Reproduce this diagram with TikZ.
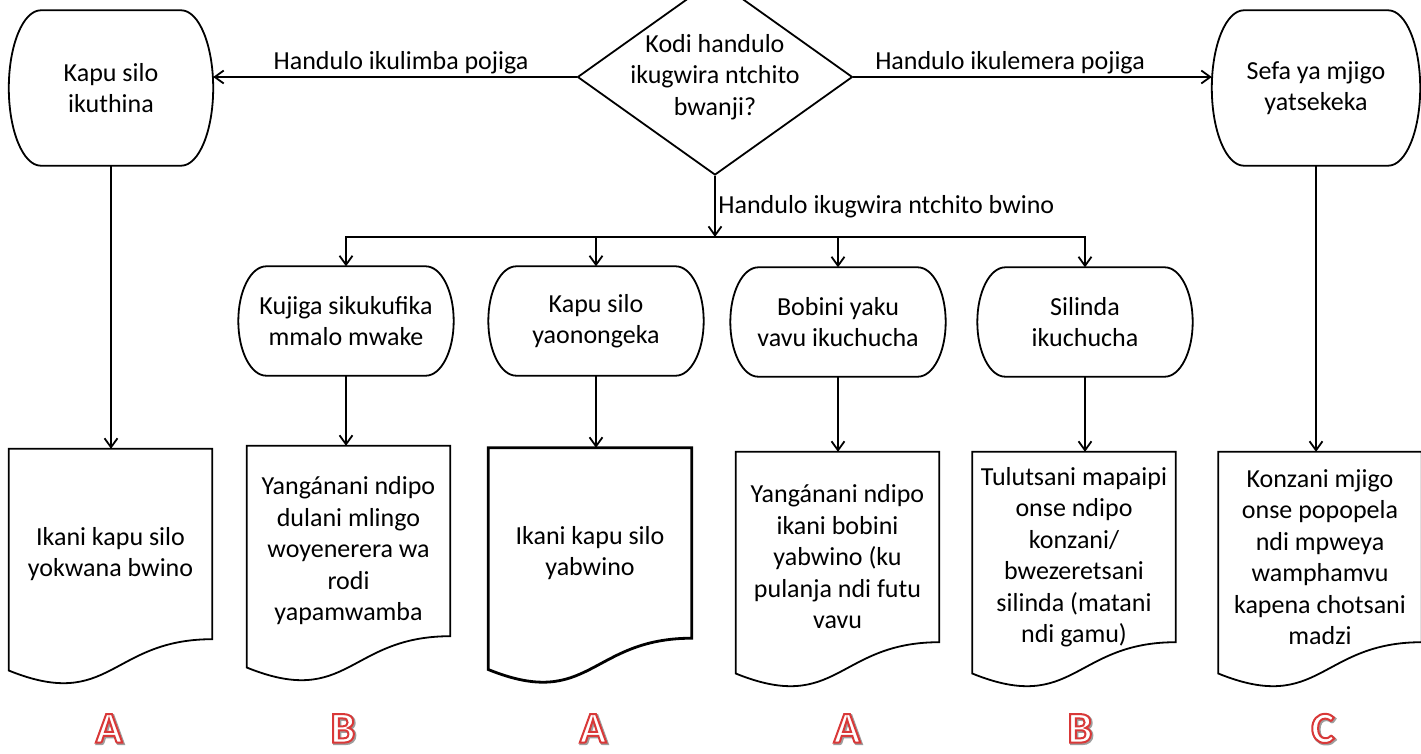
\documentclass[tikz,border=0pt]{standalone}
\usepackage{fontspec}
\setmainfont{Carlito}
\usepackage{tikz}
\usetikzlibrary{arrows.meta,positioning,calc,shapes.geometric}
\newcommand\outl[1]{\rlap{\kern1.2pt\raisebox{-1.2pt}{\special{pdf:literal direct 1 Tr 2.6 w 0.62 0.62 0.62 RG}#1}}\special{pdf:literal direct 2 Tr 2 w 0.85 0.22 0.22 RG 1 1 1 rg}#1\special{pdf:literal direct 0 Tr}}

\begin{document}
\begin{tikzpicture}[x=1pt,y=1pt,
  every node/.style={font=\fontsize{26}{31.5}\selectfont,align=center,inner sep=0pt},
  term/.style={minimum width=215pt,minimum height=109pt},
  doc/.style={minimum width=203pt,minimum height=210pt},
  arr/.style={line width=1.8pt,-{Straight Barb[length=9pt,width=13pt]}},
  lbl/.style={inner sep=2.5pt},
  grade/.style={font=\fontsize{44}{46}\selectfont\bfseries}]
  \useasboundingbox (0,0) rectangle (1421,-753);
  \node[draw,diamond,line width=1.8pt,minimum width=275pt,minimum height=196pt] (q) at (715,-77) {};
  \node (qtxt) at (q) {Kodi handulo\\ikugwira ntchito\\bwanji?};
  \node[term,minimum width=204pt,minimum height=155pt] (t1) at (111,-88) {Kapu silo\\ikuthina};
  \node[term,minimum width=208pt,minimum height=155pt] (t6) at (1316,-88) {Sefa ya mjigo\\yatsekeka};
  \node[term] (t2) at (346,-321) {Kujiga sikukufika\\mmalo mwake};
  \node[term] (t3) at (596,-321) {Kapu silo\\yaonongeka};
  \node[term] (t4) at (838,-322) {Bobini yaku\\vavu ikuchucha};
  \node[term] (t5) at (1085,-322) {Silinda\\ikuchucha};
  \node[doc] (d1) at (110.5,-554) {Ikani kapu silo\\yokwana bwino};
  \node[doc] (d2) at (348.5,-551) {Yangánani ndipo\\dulani mlingo\\woyenerera wa\\rodi\\yapamwamba};
  \node[doc] (d3) at (590,-553) {Ikani kapu silo\\yabwino};
  \node[doc] (d4) at (837.5,-557) {Yangánani ndipo\\ikani bobini\\yabwino (ku\\pulanja ndi futu\\vavu};
  \node[doc] (d5) at (1074,-557) {Tulutsani mapaipi\\onse ndipo\\konzani/\\bwezeretsani\\silinda (matani\\ndi gamu)};
  \node[doc] (d6) at (1320,-557) {Konzani mjigo\\onse popopela\\ndi mpweya\\wamphamvu\\kapena chotsani\\madzi};
  \foreach \nm/\rx in {t1/32,t6/32,t2/28,t3/28,t4/28,t5/28}
    \draw[line width=1.8pt] let \p1=(\nm.north west),\p2=(\nm.south east),\n1={(\y1-\y2)/2} in
      (\x1+\rx,\y1) -- (\x2-\rx,\y1) arc[start angle=90,end angle=-90,x radius=\rx pt,y radius=\n1]
      -- (\x1+\rx,\y2) arc[start angle=270,end angle=90,x radius=\rx pt,y radius=\n1] -- cycle;
  \foreach \nm/\lw in {d1/1.8,d2/1.8,d3/2.8,d4/1.8,d5/1.8,d6/1.8}
    \draw[line width=\lw pt] let \p1=(\nm.north west),\p2=(\nm.south east),\n1={(\y1-\y2-20)/0.802},\n2={(\x1+\x2)/2} in
      (\p1) -- (\x2,\y1) -- (\x2,\y2+20) .. controls (\n2,\y2+20) and (\n2,\y1-1.1075*\n1) .. (\x1,\y1-0.934*\n1) -- cycle;
  \draw[arr] (q.west) -- node[lbl,above,pos=0.483] (hl) {Handulo ikulimba pojiga} (q.west -| t1.east);
  \draw[arr] (q.east) -- node[lbl,above,pos=0.437] (hr) {Handulo ikulemera pojiga} (q.east -| t6.west);
  \coordinate (bus) at ($(q.south)+(0,-61)$);
  \draw[arr] (q.south) -- node[lbl,right,pos=0.5] (hb) {Handulo ikugwira ntchito bwino} (bus);
  \foreach \nm in {t2,t3,t4,t5} \draw[arr] (bus) -| (\nm.north);
  \foreach \a/\b in {t1/d1,t2/d2,t3/d3,t4/d4,t5/d5,t6/d6} \draw[arr] (\a.south) -- (\a.south |- \b.north);
  \foreach \x/\g/\nm in {109/A/ga,343/B/gb,593/A/gc,847/A/gd,1080/B/ge,1323/C/gf} \node[grade] (\nm) at (\x,-729) {\outl{\g}};
\end{tikzpicture}
\end{document}
